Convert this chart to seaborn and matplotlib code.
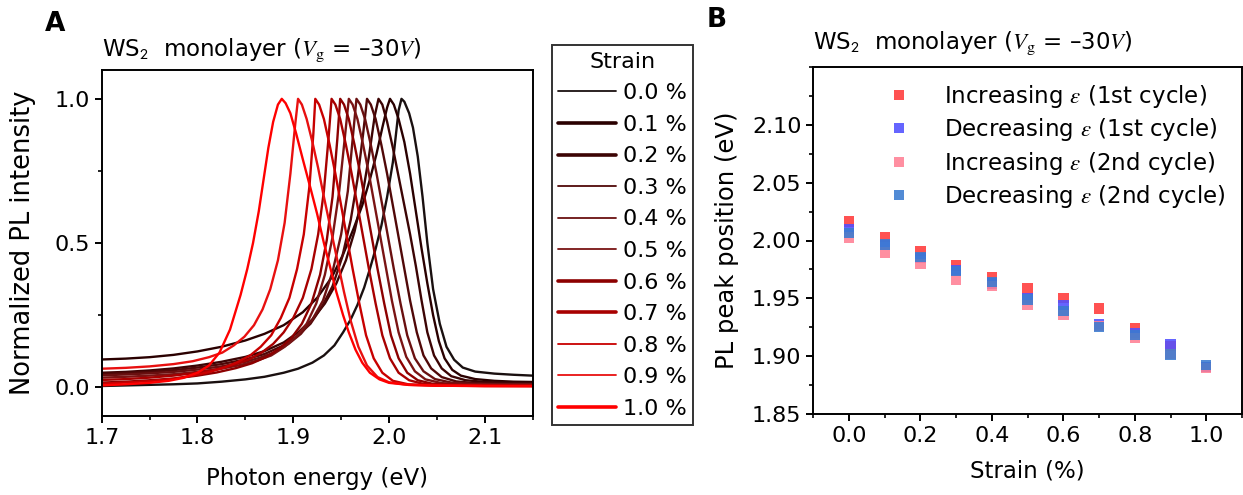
import numpy as np
import pandas as pd
import matplotlib
matplotlib.use("Agg")
import matplotlib.pyplot as plt
from matplotlib.lines import Line2D
from matplotlib.ticker import MultipleLocator, FormatStrFormatter
import seaborn as sns

# -------------------------------
# PANEL A DATA
# -------------------------------
strain_labels = ["0.0 %", "0.1 %", "0.2 %", "0.3 %", "0.4 %", "0.5 %",
                 "0.6 %", "0.7 %", "0.8 %", "0.9 %", "1.0 %"]
strain_colors = ["#1a1010", "#2a0000", "#3c0404", "#500808", "#6a1010", "#7a1414",
                 "#8c0000", "#a80000", "#c80000", "#e81010", "#ff0000"]
legend_widths = [1.3, 2.6, 2.6, 1.3, 1.3, 1.3, 2.6, 2.6, 1.3, 1.3, 2.6]

pl_energy = [
    [1.70, 1.725, 1.75, 1.775, 1.80, 1.825, 1.85, 1.87, 1.89, 1.905, 1.92, 1.932, 1.943, 1.952, 1.96,
     1.967, 1.974, 1.98, 1.986, 1.992, 1.998, 2.004, 2.010, 2.013, 2.016, 2.021, 2.025, 2.030, 2.035,
     2.040, 2.046, 2.053, 2.060, 2.068, 2.077, 2.09, 2.11, 2.13, 2.15],
    [1.70, 1.725, 1.75, 1.775, 1.80, 1.825, 1.85, 1.87, 1.89, 1.91, 1.925, 1.94, 1.952, 1.963, 1.972,
     1.98, 1.987, 1.993, 1.998, 2.001, 2.005, 2.010, 2.016, 2.022, 2.028, 2.034, 2.040, 2.046, 2.052,
     2.058, 2.066, 2.075, 2.09, 2.11, 2.13, 2.15],
    [1.70, 1.725, 1.75, 1.775, 1.80, 1.825, 1.85, 1.87, 1.89, 1.905, 1.92, 1.933, 1.945, 1.955, 1.964,
     1.972, 1.979, 1.985, 1.989, 1.993, 1.998, 2.004, 2.010, 2.016, 2.022, 2.028, 2.034, 2.040, 2.047,
     2.055, 2.065, 2.08, 2.10, 2.125, 2.15],
    [1.70, 1.725, 1.75, 1.775, 1.80, 1.825, 1.85, 1.87, 1.89, 1.905, 1.918, 1.93, 1.941, 1.951, 1.96,
     1.967, 1.973, 1.977, 1.981, 1.986, 1.992, 1.998, 2.004, 2.010, 2.016, 2.022, 2.029, 2.036, 2.044,
     2.055, 2.07, 2.09, 2.12, 2.15],
    [1.70, 1.725, 1.75, 1.775, 1.80, 1.825, 1.85, 1.865, 1.88, 1.895, 1.908, 1.92, 1.931, 1.941, 1.95,
     1.957, 1.962, 1.966, 1.970, 1.975, 1.981, 1.987, 1.993, 1.999, 2.005, 2.012, 2.019, 2.027, 2.036,
     2.048, 2.065, 2.09, 2.12, 2.15],
    [1.70, 1.725, 1.75, 1.775, 1.80, 1.825, 1.845, 1.862, 1.877, 1.891, 1.903, 1.914, 1.924, 1.933, 1.941,
     1.948, 1.954, 1.958, 1.962, 1.967, 1.973, 1.979, 1.985, 1.991, 1.997, 2.003, 2.010, 2.018, 2.027,
     2.038, 2.055, 2.08, 2.11, 2.15],
    [1.70, 1.725, 1.75, 1.775, 1.80, 1.82, 1.84, 1.857, 1.872, 1.886, 1.898, 1.909, 1.919, 1.928, 1.935,
     1.941, 1.946, 1.949, 1.953, 1.958, 1.964, 1.970, 1.976, 1.982, 1.988, 1.995, 2.002, 2.010, 2.019,
     2.030, 2.045, 2.07, 2.10, 2.15],
    [1.70, 1.725, 1.75, 1.775, 1.80, 1.82, 1.838, 1.853, 1.867, 1.879, 1.89, 1.90, 1.91, 1.919, 1.926,
     1.932, 1.937, 1.940, 1.944, 1.949, 1.955, 1.961, 1.967, 1.973, 1.979, 1.986, 1.993, 2.001, 2.010,
     2.021, 2.035, 2.06, 2.10, 2.15],
    [1.70, 1.725, 1.75, 1.775, 1.795, 1.812, 1.828, 1.842, 1.855, 1.866, 1.877, 1.887, 1.896, 1.904, 1.911,
     1.917, 1.921, 1.923, 1.927, 1.932, 1.938, 1.944, 1.950, 1.956, 1.962, 1.969, 1.976, 1.984, 1.993,
     2.004, 2.02, 2.05, 2.10, 2.15],
    [1.70, 1.725, 1.75, 1.775, 1.795, 1.812, 1.826, 1.838, 1.849, 1.859, 1.868, 1.876, 1.884, 1.891, 1.897,
     1.902, 1.905, 1.909, 1.914, 1.920, 1.926, 1.932, 1.939, 1.946, 1.953, 1.960, 1.968, 1.977, 1.988,
     2.00, 2.02, 2.05, 2.10, 2.15],
    [1.70, 1.725, 1.75, 1.77, 1.785, 1.80, 1.812, 1.823, 1.834, 1.845, 1.852, 1.858, 1.864, 1.869, 1.874,
     1.879, 1.884, 1.888, 1.892, 1.897, 1.903, 1.91, 1.918, 1.925, 1.932, 1.939, 1.945, 1.952, 1.958,
     1.965, 1.972, 1.980, 1.99, 2.00, 2.02, 2.05, 2.10, 2.15],
]
pl_intensity = [
    [0.004, 0.006, 0.008, 0.010, 0.013, 0.019, 0.027, 0.036, 0.050, 0.064, 0.085, 0.11, 0.145, 0.19, 0.235,
     0.285, 0.345, 0.41, 0.48, 0.56, 0.66, 0.78, 0.96, 1.00, 0.99, 0.95, 0.90, 0.80, 0.66,
     0.50, 0.34, 0.22, 0.14, 0.095, 0.068, 0.054, 0.047, 0.043, 0.040],
    [0.096, 0.099, 0.104, 0.112, 0.124, 0.140, 0.162, 0.185, 0.215, 0.26, 0.31, 0.38, 0.46, 0.55, 0.63,
     0.72, 0.81, 0.90, 0.97, 1.00, 0.98, 0.93, 0.85, 0.74, 0.61, 0.48, 0.36, 0.25, 0.16,
     0.10, 0.06, 0.04, 0.028, 0.022, 0.019, 0.018],
    [0.050, 0.053, 0.058, 0.065, 0.075, 0.088, 0.105, 0.125, 0.155, 0.19, 0.235, 0.29, 0.36, 0.44, 0.54,
     0.66, 0.80, 0.94, 1.00, 0.98, 0.92, 0.83, 0.73, 0.63, 0.53, 0.42, 0.30, 0.19, 0.11,
     0.065, 0.038, 0.024, 0.018, 0.015, 0.014],
    [0.046, 0.049, 0.053, 0.059, 0.068, 0.080, 0.096, 0.115, 0.145, 0.18, 0.22, 0.28, 0.35, 0.45, 0.58,
     0.72, 0.88, 1.00, 0.98, 0.93, 0.84, 0.74, 0.63, 0.52, 0.41, 0.30, 0.19, 0.11, 0.065,
     0.035, 0.020, 0.014, 0.012, 0.011],
    [0.041, 0.044, 0.048, 0.053, 0.061, 0.072, 0.088, 0.102, 0.12, 0.15, 0.185, 0.235, 0.30, 0.40, 0.53,
     0.68, 0.86, 1.00, 0.98, 0.93, 0.84, 0.74, 0.63, 0.52, 0.41, 0.29, 0.18, 0.10, 0.055,
     0.028, 0.016, 0.011, 0.010, 0.010],
    [0.033, 0.036, 0.040, 0.045, 0.053, 0.064, 0.077, 0.092, 0.11, 0.14, 0.175, 0.22, 0.29, 0.39, 0.52,
     0.68, 0.87, 1.00, 0.98, 0.93, 0.84, 0.74, 0.63, 0.52, 0.41, 0.30, 0.19, 0.105, 0.055,
     0.027, 0.014, 0.010, 0.008, 0.008],
    [0.016, 0.019, 0.024, 0.030, 0.040, 0.051, 0.066, 0.083, 0.105, 0.135, 0.17, 0.22, 0.29, 0.39, 0.51,
     0.66, 0.86, 1.00, 0.98, 0.93, 0.84, 0.74, 0.63, 0.52, 0.41, 0.29, 0.18, 0.10, 0.05,
     0.024, 0.012, 0.008, 0.007, 0.006],
    [0.025, 0.028, 0.033, 0.040, 0.050, 0.062, 0.077, 0.095, 0.12, 0.15, 0.19, 0.24, 0.31, 0.41, 0.53,
     0.68, 0.87, 1.00, 0.98, 0.93, 0.84, 0.74, 0.63, 0.52, 0.41, 0.29, 0.18, 0.10, 0.05,
     0.024, 0.012, 0.008, 0.006, 0.006],
    [0.012, 0.016, 0.021, 0.029, 0.040, 0.052, 0.068, 0.087, 0.11, 0.14, 0.18, 0.24, 0.31, 0.41, 0.53,
     0.70, 0.88, 1.00, 0.98, 0.93, 0.84, 0.74, 0.63, 0.52, 0.41, 0.29, 0.18, 0.10, 0.05,
     0.022, 0.010, 0.006, 0.004, 0.004],
    [0.064, 0.067, 0.072, 0.080, 0.090, 0.104, 0.12, 0.145, 0.175, 0.215, 0.27, 0.34, 0.44, 0.57, 0.74,
     0.91, 1.00, 0.98, 0.93, 0.85, 0.76, 0.66, 0.55, 0.44, 0.33, 0.23, 0.14, 0.075, 0.035,
     0.017, 0.008, 0.005, 0.004, 0.004],
    [0.006, 0.010, 0.015, 0.022, 0.032, 0.050, 0.075, 0.12, 0.20, 0.32, 0.41, 0.50, 0.61, 0.72, 0.83,
     0.92, 0.98, 1.00, 0.985, 0.95, 0.88, 0.79, 0.69, 0.60, 0.50, 0.41, 0.33, 0.25, 0.19,
     0.13, 0.085, 0.05, 0.027, 0.015, 0.008, 0.005, 0.004, 0.003],
]

# -------------------------------
# PANEL B DATA (peak positions)
# -------------------------------
strain_pct = [0.0, 0.1, 0.2, 0.3, 0.4, 0.5, 0.6, 0.7, 0.8, 0.9, 1.0]
inc_1st = [2.0163, 2.0028, 1.9911, 1.9785, 1.9680, 1.9585, 1.9504, 1.9413, 1.9244, 1.9087, 1.8910]
dec_1st = [2.0100, 1.9960, 1.9850, 1.9742, 1.9630, 1.9504, 1.9442, 1.9280, 1.9204, 1.9104, 1.8910]
inc_2nd = [2.0026, 1.9897, 1.9800, 1.9662, 1.9605, 1.9442, 1.9358, 1.9260, 1.9160, 1.9020, 1.8900]
dec_2nd = [2.0063, 1.9966, 1.9857, 1.9734, 1.9639, 1.9490, 1.9390, 1.9253, 1.9184, 1.9015, 1.8923]

series_names = [r"Increasing $\epsilon$ (1st cycle)", r"Decreasing $\epsilon$ (1st cycle)",
                r"Increasing $\epsilon$ (2nd cycle)", r"Decreasing $\epsilon$ (2nd cycle)"]
series_colors = ["#ff3a3a", "#5050ff", "#ff8094", "#3a7bd0"]

title_txt = r"WS$_\mathsf{2}$  monolayer ($V_\mathrm{g}$ = –30$V$)"

for es, ys in zip(pl_energy, pl_intensity):
    assert len(es) == len(ys)

# -------------------------------
# STYLE
# -------------------------------
FS = 16
sns.set_theme(style="ticks")
plt.rcParams["font.family"] = ["DejaVu Sans"]
plt.rcParams["mathtext.fontset"] = "stix"
plt.rcParams["font.size"] = FS
plt.rcParams["axes.labelsize"] = FS
plt.rcParams["axes.titlesize"] = FS
plt.rcParams["axes.linewidth"] = 1.4
plt.rcParams["axes.edgecolor"] = "black"
plt.rcParams["text.color"] = "black"
plt.rcParams["axes.labelcolor"] = "black"
for ax_name in ["xtick", "ytick"]:
    plt.rcParams[f"{ax_name}.major.size"] = 5
    plt.rcParams[f"{ax_name}.minor.size"] = 3
    plt.rcParams[f"{ax_name}.major.width"] = 1.4
    plt.rcParams[f"{ax_name}.minor.width"] = 1.2
    plt.rcParams[f"{ax_name}.labelsize"] = FS
    plt.rcParams[f"{ax_name}.color"] = "black"
    plt.rcParams[f"{ax_name}.labelcolor"] = "black"

W, H = 1243, 495
fig = plt.figure(figsize=(W / 100, H / 100), dpi=100)
ax_a = fig.add_axes([101.7 / W, 1 - 416 / H, 431 / W, 346 / H])
ax_b = fig.add_axes([813.3 / W, 1 - 414.3 / H, 428.7 / W, 347.6 / H])

# -------------------------------
# PANEL A
# -------------------------------
rows = []
for lab, es, ys in zip(strain_labels, pl_energy, pl_intensity):
    for e, y in zip(es, ys):
        rows.append((lab, e, y))
df_a = pd.DataFrame(rows, columns=["strain", "energy", "intensity"])

sns.lineplot(data=df_a, x="energy", y="intensity", hue="strain",
             hue_order=strain_labels, palette=strain_colors,
             sort=False, estimator=None, linewidth=1.7, legend=False, ax=ax_a)

ax_a.set_xlim(1.7, 2.15)
ax_a.set_ylim(-0.1, 1.1)
ax_a.xaxis.set_major_locator(MultipleLocator(0.1))
ax_a.xaxis.set_minor_locator(MultipleLocator(0.05))
ax_a.yaxis.set_major_locator(MultipleLocator(0.5))
ax_a.yaxis.set_minor_locator(MultipleLocator(0.25))
ax_a.xaxis.set_major_formatter(FormatStrFormatter("%.1f"))
ax_a.yaxis.set_major_formatter(FormatStrFormatter("%.1f"))
ax_a.set_xlabel("Photon energy (eV)", labelpad=14, fontsize=16.5)
ax_a.set_ylabel("Normalized PL intensity", labelpad=13, fontsize=18.5)
ax_a.set_title(title_txt, loc="left", pad=10, fontsize=16.5)

handles = [Line2D([], [], color=c, lw=w) for c, w in zip(strain_colors, legend_widths)]
leg_a = fig.legend(handles, strain_labels, title="Strain", loc="upper left",
                   bbox_to_anchor=(551.7 / W, 1 - 45 / H), frameon=True, fancybox=False,
                   edgecolor="black", borderaxespad=0, borderpad=0.3, handlelength=2.6,
                   handletextpad=0.3, labelspacing=0.52, fontsize=FS, title_fontsize=FS)
leg_a.get_frame().set_linewidth(1.4)

# -------------------------------
# PANEL B
# -------------------------------
df_b = pd.DataFrame({
    "strain": strain_pct * 4,
    "peak": inc_1st + dec_1st + inc_2nd + dec_2nd,
    "series": sum([[n] * len(strain_pct) for n in series_names], []),
})
sns.scatterplot(data=df_b, x="strain", y="peak", hue="series", hue_order=series_names,
                palette=series_colors, marker="s", s=55, alpha=0.88, linewidth=0,
                legend=False, ax=ax_b)

ax_b.set_xlim(-0.1, 1.1)
ax_b.set_ylim(1.85, 2.15)
ax_b.xaxis.set_major_locator(MultipleLocator(0.2))
ax_b.xaxis.set_minor_locator(MultipleLocator(0.1))
ax_b.yaxis.set_major_locator(MultipleLocator(0.05))
ax_b.yaxis.set_minor_locator(MultipleLocator(0.025))
ax_b.xaxis.set_major_formatter(FormatStrFormatter("%.1f"))
ax_b.yaxis.set_major_formatter(FormatStrFormatter("%.2f"))
ax_b.set_yticks([1.85, 1.90, 1.95, 2.00, 2.05, 2.10])
ax_b.set_xlabel("Strain (%)", labelpad=10, fontsize=16.5)
ax_b.set_ylabel("PL peak position (eV)", labelpad=9, fontsize=17.5)
ax_b.set_title(title_txt, loc="left", pad=13, fontsize=16.5)

mk = [Line2D([], [], ls="none", marker="s", markersize=7.5, markeredgewidth=0,
             color=c, alpha=0.88) for c in series_colors]
ax_b.legend(mk, series_names, loc="upper right", frameon=False, handlelength=1.0,
            handletextpad=1.5, labelspacing=0.28, borderaxespad=0.3, fontsize=16.5)

for ax in [ax_a, ax_b]:
    for sp in ax.spines.values():
        sp.set_visible(True)
        sp.set_linewidth(1.4)
    ax.tick_params(which="both", direction="out")

fig.text(55 / W, 1 - 24 / H, "A", fontsize=19, fontweight="bold", ha="center", va="center")
fig.text(717 / W, 1 - 20 / H, "B", fontsize=19, fontweight="bold", ha="center", va="center")

fig.savefig("out.png", dpi=100)
